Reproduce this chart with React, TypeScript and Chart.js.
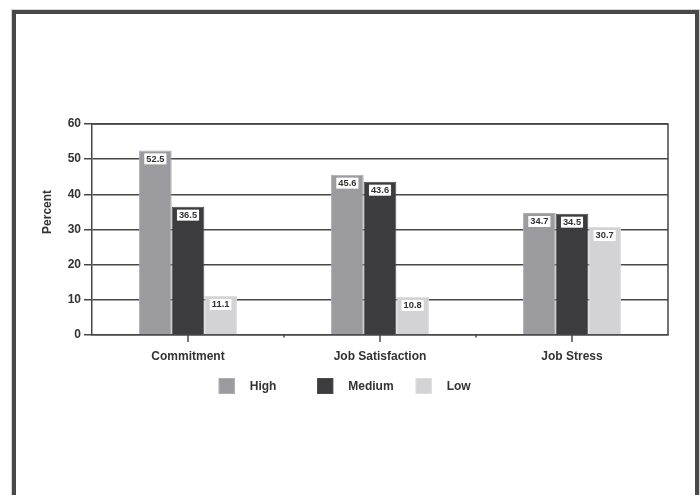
import React, { useEffect, useRef } from "react";
import { Chart, registerables } from "chart.js";

Chart.register(...registerables);

// Survey outcomes grouped by level
const categories = ["Commitment", "Job Satisfaction", "Job Stress"];
const seriesNames = ["High", "Medium", "Low"];
const highValues = [52.5, 45.6, 34.7];
const mediumValues = [36.5, 43.6, 34.5];
const lowValues = [11.1, 10.8, 30.7];
const yTickValues = [0, 10, 20, 30, 40, 50, 60];
const yTitle = "Percent";

const seriesFill = ["#9b9b9f", "#3c3c3e", "#d3d3d5"];
const seriesEdge = ["#adadb1", "#4a4a4c", "#dededf"];

const FONT = "'Liberation Sans', Arial, Helvetica, sans-serif";
const INK = "#333333";
const LINE = "#474747";

const plotFrame = {
  id: "plotFrame",
  beforeDatasetsDraw(chart: any) {
    const { ctx, chartArea } = chart;
    ctx.save();
    ctx.strokeStyle = LINE;
    ctx.lineWidth = 1.5;
    ctx.beginPath();
    ctx.moveTo(chartArea.left, chartArea.top);
    ctx.lineTo(chartArea.right, chartArea.top);
    ctx.lineTo(chartArea.right, chartArea.bottom);
    ctx.stroke();
    ctx.restore();
  },
  afterDraw(chart: any) {
    const { ctx, chartArea, scales } = chart;
    const x = scales.x;
    const y = scales.y;
    ctx.save();
    // category ticks under the axis
    ctx.strokeStyle = LINE;
    ctx.lineWidth = 1.5;
    const step = categories.length > 1 ? x.getPixelForValue(1) - x.getPixelForValue(0) : chartArea.width;
    categories.forEach((_, i) => {
      const px = x.getPixelForValue(i);
      ctx.beginPath();
      ctx.moveTo(px, chartArea.bottom);
      ctx.lineTo(px, chartArea.bottom + 7);
      ctx.stroke();
      if (i < categories.length - 1) {
        const bx = px + step / 2;
        ctx.beginPath();
        ctx.moveTo(bx, chartArea.bottom);
        ctx.lineTo(bx, chartArea.bottom + 2.5);
        ctx.stroke();
      }
    });

    // y-axis title
    ctx.fillStyle = INK;
    ctx.font = `bold 12px ${FONT}`;
    ctx.textAlign = "center";
    ctx.textBaseline = "middle";
    ctx.translate(48, y.getPixelForValue(35));
    ctx.rotate(-Math.PI / 2);
    ctx.fillText(yTitle, 0, 0);
    ctx.restore();

    // legend in fixed columns
    ctx.save();
    const colW = chartArea.width * 0.171;
    const startX = chartArea.left + chartArea.width * 0.22;
    const cy = chartArea.bottom + 51;
    ctx.font = `bold 12px ${FONT}`;
    ctx.textAlign = "left";
    ctx.textBaseline = "middle";
    seriesNames.forEach((name, i) => {
      const bx = startX + i * colW;
      ctx.fillStyle = seriesFill[i];
      ctx.fillRect(bx, cy - 8, 16, 16);
      ctx.strokeStyle = seriesEdge[i];
      ctx.lineWidth = 1;
      ctx.strokeRect(bx + 0.5, cy - 7.5, 15, 15);
      ctx.fillStyle = INK;
      ctx.fillText(name, bx + 31, cy + 0.5);
    });
    ctx.restore();
  },
};

const valueTags = {
  id: "valueTags",
  afterDatasetsDraw(chart: any) {
    const { ctx } = chart;
    ctx.save();
    ctx.font = `bold 9.3px ${FONT}`;
    ctx.textAlign = "center";
    ctx.textBaseline = "middle";
    chart.data.datasets.forEach((ds: any, di: number) => {
      const meta = chart.getDatasetMeta(di);
      meta.data.forEach((el: any, i: number) => {
        const text = ds.data[i].toFixed(1);
        const w = ctx.measureText(text).width + 4;
        const top = el.y + 3;
        ctx.fillStyle = "#ffffff";
        ctx.fillRect(el.x - w / 2, top, w, 11);
        ctx.fillStyle = INK;
        ctx.fillText(text, el.x, top + 5.8);
      });
    });
    ctx.restore();
  },
};

export default function App() {
  const canvasRef = useRef<HTMLCanvasElement | null>(null);

  useEffect(() => {
    const canvas = canvasRef.current;
    if (!canvas) return;
    const seriesData = [highValues, mediumValues, lowValues];
    const chart = new Chart(canvas, {
      type: "bar",
      data: {
        labels: categories,
        datasets: seriesNames.map((name, i) => ({
          label: name,
          data: seriesData[i],
          backgroundColor: seriesFill[i],
          borderColor: seriesEdge[i],
          borderWidth: 1,
          categoryPercentage: 0.51,
          barPercentage: 1.0,
        })),
      },
      options: {
        animation: false,
        responsive: false,
        maintainAspectRatio: false,
        devicePixelRatio: 1,
        layout: { padding: { left: 0, top: 124, right: 32, bottom: 130 } },
        plugins: {
          legend: { display: false },
          tooltip: { enabled: false },
          title: { display: false },
        },
        scales: {
          x: {
            grid: { display: false, drawTicks: false },
            border: { display: true, color: LINE, width: 1.5 },
            ticks: {
              padding: 14,
              color: INK,
              font: { family: FONT, size: 12, weight: "bold" },
            },
            afterFit(scale: any) {
              scale.height = 30;
            },
          },
          y: {
            min: 0,
            max: 60,
            afterBuildTicks(scale: any) {
              scale.ticks = yTickValues.map((v) => ({ value: v }));
            },
            grid: { color: LINE, lineWidth: 1.5, tickLength: 8, drawTicks: true },
            border: { display: true, color: LINE, width: 1.5 },
            ticks: {
              padding: 3,
              color: INK,
              font: { family: FONT, size: 12, weight: "bold" },
            },
            afterFit(scale: any) {
              scale.width = 92;
            },
          },
        },
      },
      plugins: [plotFrame, valueTags],
    });
    return () => chart.destroy();
  }, []);

  return (
    <div
      style={{
        position: "fixed",
        left: 0,
        top: 0,
        width: 700,
        height: 495,
        background: "#ffffff",
        overflow: "hidden",
      }}
    >
      <div
        style={{
          position: "absolute",
          left: 12,
          top: 10,
          width: 687,
          height: 600,
          boxSizing: "border-box",
          border: "4px solid #484848",
          boxShadow: "0 0 0 1px #d6d6d6",
          background: "#ffffff",
        }}
      />
      <canvas
        ref={canvasRef}
        width={700}
        height={495}
        style={{ position: "absolute", left: 0, top: 0, width: 700, height: 495 }}
      />
    </div>
  );
}
